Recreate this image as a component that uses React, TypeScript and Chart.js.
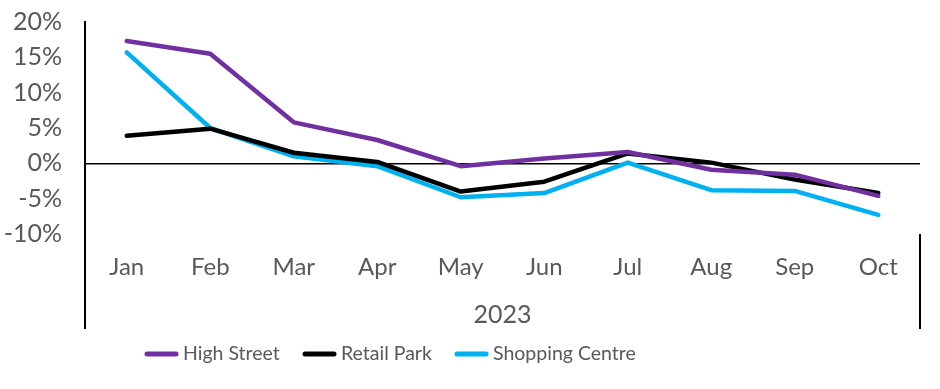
import React, { useEffect, useRef } from "react";
import { Chart, registerables } from "chart.js";

Chart.register(...registerables);

const months = ["Jan", "Feb", "Mar", "Apr", "May", "Jun", "Jul", "Aug", "Sep", "Oct"];
const groupLabel = "2023";
const highStreet = [17.3, 15.5, 5.8, 3.3, -0.4, 0.7, 1.6, -0.9, -1.6, -4.6];
const retailPark = [3.9, 4.9, 1.5, 0.2, -4.0, -2.6, 1.4, 0.1, -2.3, -4.2];
const shoppingCentre = [15.7, 5.0, 1.0, -0.4, -4.8, -4.2, 0.1, -3.8, -3.9, -7.3];
const seriesNames = ["High Street", "Retail Park", "Shopping Centre"];
const seriesColors = ["#7030A0", "#000000", "#00B0F0"];
const yMin = -10;
const yMax = 20;
const yStep = 5;

const FONT = "Lato, 'Open Sans', sans-serif";
const TEXT_COLOR = "#595959";

const decorPlugin = {
  id: "decor",
  afterDraw(chart: any) {
    const { ctx, chartArea: ca } = chart;
    const ext = ca.bottom + 95;
    ctx.save();
    ctx.strokeStyle = "#000";
    ctx.lineWidth = 2;
    ctx.beginPath();
    ctx.moveTo(ca.left, ca.bottom);
    ctx.lineTo(ca.left, ext);
    ctx.moveTo(ca.right, ca.bottom);
    ctx.lineTo(ca.right, ext);
    ctx.stroke();

    ctx.fillStyle = TEXT_COLOR;
    ctx.font = `25px ${FONT}`;
    ctx.textAlign = "center";
    ctx.textBaseline = "middle";
    ctx.fillText(groupLabel, (ca.left + ca.right) / 2, ca.bottom + 81);

    // legend
    const legendY = ca.bottom + 120;
    const starts = [145, 303, 455];
    chart.data.datasets.forEach((ds: any, i: number) => {
      const sx = starts[i];
      ctx.strokeStyle = ds.borderColor;
      ctx.lineWidth = 5;
      ctx.lineCap = "round";
      ctx.beginPath();
      ctx.moveTo(sx + 2, legendY);
      ctx.lineTo(sx + 31, legendY);
      ctx.stroke();
      ctx.fillStyle = TEXT_COLOR;
      ctx.font = `19.5px ${FONT}`;
      ctx.textAlign = "left";
      ctx.textBaseline = "middle";
      ctx.fillText(ds.label, sx + 38, legendY);
    });
    ctx.restore();
  },
};

export default function App() {
  const ref = useRef<HTMLCanvasElement | null>(null);

  useEffect(() => {
    if (!ref.current) return;
    const series = [highStreet, retailPark, shoppingCentre];
    const chart = new Chart(ref.current, {
      type: "line",
      data: {
        labels: months,
        datasets: series.map((d, i) => ({
          label: seriesNames[i],
          data: d,
          borderColor: seriesColors[i],
          backgroundColor: seriesColors[i],
          borderWidth: 4.5,
          borderCapStyle: "round",
          borderJoinStyle: "round",
          pointRadius: 0,
          tension: 0,
          fill: false,
        })),
      },
      options: {
        animation: false,
        responsive: false,
        maintainAspectRatio: false,
        layout: { padding: { top: 22, right: 20, bottom: 0, left: 0 } },
        plugins: {
          legend: { display: false },
          tooltip: { enabled: false },
        },
        scales: {
          x: {
            offset: true,
            grid: { display: false, drawTicks: false, tickLength: 0 },
            border: { display: false },
            ticks: {
              color: TEXT_COLOR,
              font: { family: FONT, size: 24 },
              padding: 19,
              maxRotation: 0,
              autoSkip: false,
            },
            afterFit(scale: any) {
              scale.height = 155;
            },
          },
          y: {
            min: yMin,
            max: yMax,
            grid: {
              drawTicks: false,
              tickLength: 0,
              color: (c: any) => (c.tick && c.tick.value === 0 ? "#000" : "rgba(0,0,0,0)"),
              lineWidth: 1.5,
            },
            border: { display: true, color: "#000", width: 2 },
            ticks: {
              stepSize: yStep,
              autoSkip: false,
              color: TEXT_COLOR,
              font: { family: FONT, size: 25 },
              padding: 23,
              callback: (v: any) => `${v}%`,
            },
            afterFit(scale: any) {
              scale.width = 85;
              scale.paddingTop = 0;
              scale.paddingBottom = 0;
            },
          },
        },
      },
      plugins: [decorPlugin],
    });
    return () => chart.destroy();
  }, []);

  return (
    <div style={{ position: "fixed", left: 0, top: 0, width: 940, height: 389, background: "#fff" }}>
      <canvas ref={ref} width={940} height={389} style={{ display: "block" }} />
    </div>
  );
}
